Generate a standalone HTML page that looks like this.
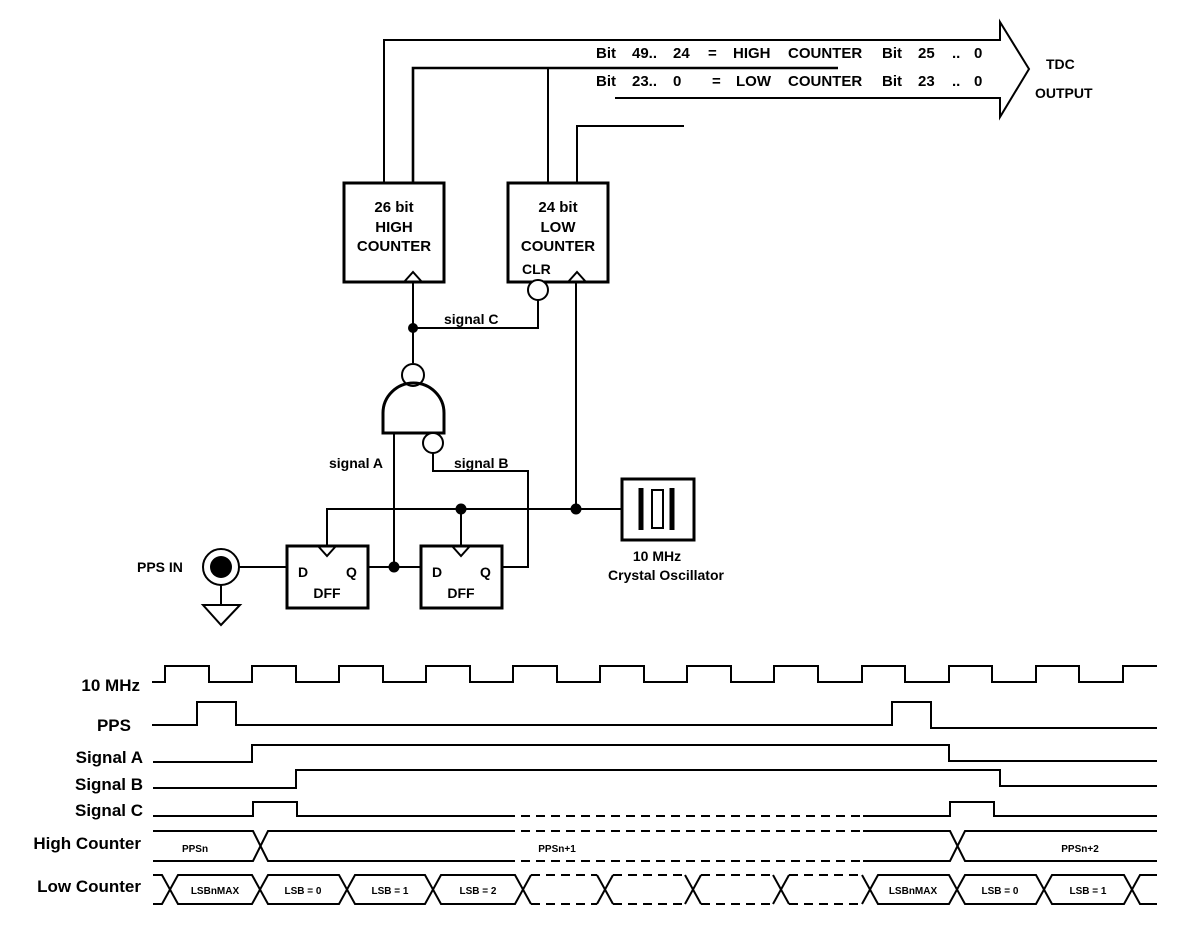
<!DOCTYPE html>
<html><head><style>
html,body{margin:0;padding:0;background:#fff;}
svg{display:block;font-family:"Liberation Sans",Arial,sans-serif;font-weight:bold;}
</style></head><body>
<svg width="1186" height="931" viewBox="0 0 1186 931" xmlns="http://www.w3.org/2000/svg">
<g fill="none" stroke="#000" stroke-width="2">
  <polyline points="384,182 384,40 1000,40 1000,22 1029,69 1000,117 1000,98 615,98"/>
  <polyline points="413,182 413,68 838,68" stroke-width="2.6"/>
  <line x1="548" y1="68" x2="548" y2="182"/>
  <polyline points="577,182 577,126 684,126"/>
  <rect x="344" y="183" width="100" height="99" stroke-width="3"/>
  <rect x="508" y="183" width="100" height="99" stroke-width="3"/>
  <polyline points="404,282 413,272 422,282"/>
  <polyline points="568,282 577,272 586,282"/>
  <ellipse cx="538" cy="290" rx="10" ry="10" fill="#fff"/>
  <polyline points="413,282 413,363"/>
  <polyline points="413,328 538,328 538,300"/>
  <line x1="576" y1="282" x2="576" y2="509"/>
  <circle cx="413" cy="375" r="11" fill="#fff"/>
  <path d="M383,433 L383,413 A30.5,30 0 0 1 444,413 L444,433 Z" stroke-width="3"/>
  <circle cx="433" cy="443" r="10" fill="#fff"/>
  <line x1="394" y1="433" x2="394" y2="567"/>
  <polyline points="433,453 433,471 528,471 528,567 502,567"/>
  <polyline points="327,547 327,509 621,509"/>
  <line x1="461" y1="509" x2="461" y2="547"/>
  <rect x="622" y="479" width="72" height="61" stroke-width="3"/>
  <line x1="641" y1="488" x2="641" y2="530" stroke-width="5"/>
  <line x1="672" y1="488" x2="672" y2="530" stroke-width="5"/>
  <rect x="652" y="490" width="11" height="38"/>
  <rect x="287" y="546" width="81" height="62" stroke-width="3"/>
  <rect x="421" y="546" width="81" height="62" stroke-width="3"/>
  <polyline points="318,546 327,556 336,546"/>
  <polyline points="452,546 461,556 470,546"/>
  <line x1="368" y1="567" x2="421" y2="567"/>
  <circle cx="221" cy="567" r="18"/>
  <line x1="239" y1="567" x2="287" y2="567"/>
  <line x1="221" y1="585" x2="221" y2="605"/>
  <polygon points="203,605 240,605 221,625"/>
</g>
<g fill="#000">
  <circle cx="221" cy="567" r="11"/>
  <circle cx="413" cy="328" r="5"/>
  <circle cx="576" cy="509" r="5.5"/>
  <circle cx="461" cy="509" r="5.5"/>
  <circle cx="394" cy="567" r="5.5"/>
</g>
<g font-size="15" fill="#000">
  <text x="596" y="58">Bit</text><text x="632" y="58">49..</text><text x="673" y="58">24</text><text x="708" y="58">=</text><text x="733" y="58">HIGH</text><text x="788" y="58">COUNTER</text><text x="882" y="58">Bit</text><text x="918" y="58">25</text><text x="952" y="58">..</text><text x="974" y="58">0</text>
  <text x="596" y="86">Bit</text><text x="632" y="86">23..</text><text x="673" y="86">0</text><text x="712" y="86">=</text><text x="736" y="86">LOW</text><text x="788" y="86">COUNTER</text><text x="882" y="86">Bit</text><text x="918" y="86">23</text><text x="952" y="86">..</text><text x="974" y="86">0</text>
</g>
<g font-size="14" fill="#000">
  <text x="1046" y="69">TDC</text>
  <text x="1035" y="98">OUTPUT</text>
  <g text-anchor="middle" font-size="15">
    <text x="394" y="212">26 bit</text><text x="394" y="232">HIGH</text><text x="394" y="251">COUNTER</text>
    <text x="558" y="212">24 bit</text><text x="558" y="232">LOW</text><text x="558" y="251">COUNTER</text>
  </g>
  <g text-anchor="middle">
    <text x="657" y="561">10 MHz</text><text x="666" y="580">Crystal Oscillator</text>
    <text x="327" y="598">DFF</text><text x="461" y="598">DFF</text>
  </g>
  <text x="522" y="274">CLR</text>
  <text x="444" y="324">signal C</text>
  <text x="329" y="468">signal A</text>
  <text x="454" y="468">signal B</text>
  <text x="298" y="577">D</text><text x="346" y="577">Q</text>
  <text x="432" y="577">D</text><text x="480" y="577">Q</text>
  <text x="137" y="572">PPS IN</text>
</g>
<g font-size="17" text-anchor="end" fill="#000">
  <text x="140" y="691">10 MHz</text>
  <text x="131" y="731">PPS</text>
  <text x="143" y="763">Signal A</text>
  <text x="143" y="790">Signal B</text>
  <text x="143" y="816">Signal C</text>
  <text x="141" y="849">High Counter</text>
  <text x="141" y="892">Low Counter</text>
</g>
<g fill="none" stroke="#000" stroke-width="2">
  <polyline points="152,682 165,682 165,666 209,666 209,682 252,682 252,666 296,666 296,682 339,682 339,666 383,666 383,682 426,682 426,666 470,666 470,682 513,682 513,666 557,666 557,682 600,682 600,666 644,666 644,682 687,682 687,666 731,666 731,682 774,682 774,666 818,666 818,682 862,682 862,666 905,666 905,682 949,682 949,666 992,666 992,682 1036,682 1036,666 1079,666 1079,682 1123,682 1123,666 1157,666"/>
  <polyline points="152,725 197,725 197,702 236,702 236,725 892,725 892,702 931,702 931,728 1157,728"/>
  <polyline points="153,762 252,762 252,745 949,745 949,761 1157,761"/>
  <polyline points="153,788 296,788 296,770 1000,770 1000,786 1157,786"/>
  <polyline points="153,816 253,816 253,802 297,802 297,816 506,816"/>
  <polyline points="863,816 950,816 950,802 994,802 994,816 1157,816"/>
  <line x1="506" y1="816" x2="863" y2="816" stroke-dasharray="9,6"/>
  <polyline points="153,831 253,831 268,861 506,861"/>
  <polyline points="153,861 253,861 268,831 506,831"/>
  <line x1="506" y1="831" x2="863" y2="831" stroke-dasharray="9,6"/>
  <line x1="506" y1="861" x2="863" y2="861" stroke-dasharray="9,6"/>
  <polyline points="863,831 950,831 965,861 1157,861"/>
  <polyline points="863,861 950,861 965,831 1157,831"/>
  <polyline points="153,875 162,875 178,904 252,904 268,875 339,875 355,904 425,904 441,875 515,875 531,904"/>
  <polyline points="153,904 162,904 178,875 252,875 268,904 339,904 355,875 425,875 441,904 515,904 531,875"/>
  <polyline points="862,875 878,904 949,904 965,875 1036,875 1052,904 1124,904 1140,875 1157,875"/>
  <polyline points="862,904 878,875 949,875 965,904 1036,904 1052,875 1124,875 1140,904 1157,904"/>
  <g stroke-dasharray="9,6">
    <line x1="531" y1="875" x2="597" y2="875"/><line x1="531" y1="904" x2="597" y2="904"/>
    <line x1="613" y1="875" x2="685" y2="875"/><line x1="613" y1="904" x2="685" y2="904"/>
    <line x1="701" y1="875" x2="773" y2="875"/><line x1="701" y1="904" x2="773" y2="904"/>
    <line x1="789" y1="875" x2="862" y2="875"/><line x1="789" y1="904" x2="862" y2="904"/>
  </g>
  <line x1="597" y1="875" x2="613" y2="904"/><line x1="597" y1="904" x2="613" y2="875"/>
  <line x1="685" y1="875" x2="701" y2="904"/><line x1="685" y1="904" x2="701" y2="875"/>
  <line x1="773" y1="875" x2="789" y2="904"/><line x1="773" y1="904" x2="789" y2="875"/>
</g>
<g font-size="10" text-anchor="middle" fill="#000">
  <text x="195" y="852">PPSn</text>
  <text x="557" y="852">PPSn+1</text>
  <text x="1080" y="852">PPSn+2</text>
  <text x="215" y="894">LSBnMAX</text>
  <text x="303" y="894">LSB = 0</text>
  <text x="390" y="894">LSB = 1</text>
  <text x="478" y="894">LSB = 2</text>
  <text x="913" y="894">LSBnMAX</text>
  <text x="1000" y="894">LSB = 0</text>
  <text x="1088" y="894">LSB = 1</text>
</g>
</svg>
</body></html>
